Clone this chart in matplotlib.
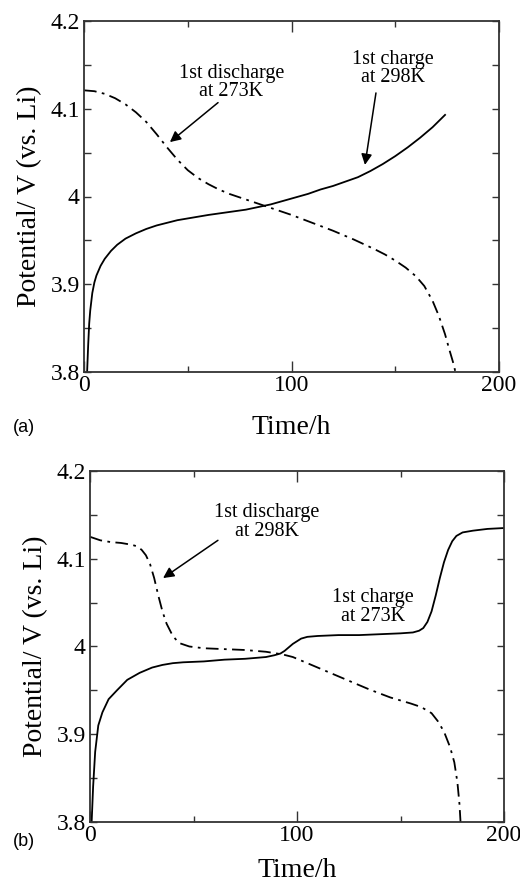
import matplotlib
matplotlib.use('Agg')
import matplotlib.pyplot as plt
from matplotlib.ticker import MultipleLocator, FixedLocator

plt.rcParams['font.family'] = ['Liberation Serif', 'DejaVu Serif']

# panel (a): 1st charge at 298K, 1st discharge at 273K
charge_a_t = [1.5, 2, 2.5, 3, 4, 5, 6, 8, 10, 13, 16, 20, 25, 30, 35, 40, 45, 50,
              55, 60, 66, 72, 78, 84, 90, 96, 102, 108, 114, 120, 126, 132, 138,
              144, 150, 156, 162, 168, 174]
charge_a_v = [3.80, 3.83, 3.855, 3.87, 3.89, 3.902, 3.91, 3.921, 3.929, 3.938,
              3.945, 3.952, 3.958, 3.963, 3.967, 3.970, 3.973, 3.975, 3.977,
              3.979, 3.981, 3.983, 3.985, 3.988, 3.991, 3.995, 3.999, 4.003,
              4.008, 4.012, 4.017, 4.022, 4.029, 4.037, 4.046, 4.056, 4.067,
              4.079, 4.093]
disch_a_t = [0, 5, 10, 15, 20, 25, 30, 35, 40, 45, 50, 55, 60, 65, 70, 75, 80,
             85, 90, 95, 100, 110, 120, 130, 140, 145, 150, 155, 160, 164, 168,
             171, 174, 176, 178, 179]
disch_a_v = [4.121, 4.120, 4.117, 4.112, 4.105, 4.096, 4.085, 4.071, 4.056,
             4.042, 4.030, 4.021, 4.014, 4.008, 4.003, 3.999, 3.995, 3.991,
             3.987, 3.983, 3.979, 3.970, 3.961, 3.951, 3.940, 3.934, 3.927,
             3.919, 3.909, 3.898, 3.881, 3.864, 3.843, 3.826, 3.810, 3.80]

# panel (b): 1st charge at 273K, 1st discharge at 298K
charge_b_t = [0.8, 1.5, 2.5, 4, 6, 9, 13, 18, 24, 30, 35, 40, 45, 55, 65, 75, 85,
              89, 92, 94, 96, 98, 100, 102, 105, 110, 120, 130, 140, 150, 156,
              159, 161, 163, 165, 167, 169, 171, 173, 175, 177, 180, 185, 192, 200]
charge_b_v = [3.80, 3.84, 3.88, 3.91, 3.925, 3.94, 3.95, 3.962, 3.970, 3.976,
              3.979, 3.981, 3.982, 3.983, 3.985, 3.986, 3.988, 3.990, 3.992,
              3.995, 3.999, 4.003, 4.006, 4.009, 4.011, 4.012, 4.013, 4.013,
              4.014, 4.015, 4.016, 4.018, 4.021, 4.028, 4.040, 4.058, 4.078,
              4.096, 4.110, 4.120, 4.126, 4.130, 4.132, 4.134, 4.135]
disch_b_t = [0, 5, 10, 15, 20, 23, 25, 27, 29, 31, 33, 35, 37, 40, 43, 48, 55,
             65, 75, 85, 93, 98, 105, 115, 125, 135, 145, 155, 160, 165, 168,
             171, 174, 176, 177.5, 178.5, 179]
disch_b_v = [4.125, 4.121, 4.119, 4.118, 4.116, 4.114, 4.110, 4.104, 4.094,
             4.078, 4.058, 4.040, 4.026, 4.012, 4.004, 4.000, 3.998, 3.997,
             3.996, 3.994, 3.991, 3.988, 3.981, 3.971, 3.961, 3.951, 3.942,
             3.935, 3.931, 3.924, 3.915, 3.903, 3.885, 3.868, 3.845, 3.82, 3.80]

x_ticks = [0, 100, 200]
y_ticks = [3.8, 3.9, 4.0, 4.1, 4.2]
y_ticklabels = ['3.8', '3.9', '4', '4.1', '4.2']

W, H = 520, 886
fig = plt.figure(figsize=(W / 100, H / 100), dpi=100)


def px_axes(left, right, top, bottom):
    return fig.add_axes([left / W, 1 - bottom / H, (right - left) / W, (bottom - top) / H])


def style(ax, xpad):
    ax.set_xlim(0, 200)
    ax.set_ylim(3.8, 4.2)
    ax.xaxis.set_major_locator(FixedLocator(x_ticks))
    ax.xaxis.set_minor_locator(MultipleLocator(50))
    ax.set_yticks(y_ticks)
    ax.set_yticklabels(y_ticklabels)
    ax.yaxis.set_minor_locator(MultipleLocator(0.05))
    ax.tick_params(which='both', direction='in', top=True, right=True,
                   labelsize=17, color='#333333', width=1.0)
    ax.tick_params(axis='x', which='major', length=8, pad=2)
    ax.tick_params(axis='x', which='minor', length=4)
    ax.tick_params(axis='y', which='both', length=5, pad=3)
    for s in ax.spines.values():
        s.set_linewidth(1.3)
        s.set_color('#333333')
    ax.set_xlabel('Time/h', fontsize=20, labelpad=xpad)
    ax.set_ylabel('Potential/ V (vs. Li)', fontsize=20, labelpad=6)


dashdot = (0, (7, 3, 1.5, 3))
arrow = dict(arrowstyle='-|>', color='black', lw=1.1, mutation_scale=16,
             shrinkA=0, shrinkB=0)

ax1 = px_axes(84, 499, 21, 372)
ax1.plot(charge_a_t, charge_a_v, color='black', lw=1.3)
ax1.plot(disch_a_t, disch_a_v, color='black', lw=1.3, linestyle=dashdot)
style(ax1, 14)
ax1.text(71, 4.130, '1st discharge\nat 273K', fontsize=14.5, ha='center', va='center',
         linespacing=0.95)
ax1.annotate('', xy=(41.4, 4.062), xytext=(64.6, 4.107), arrowprops=arrow)
ax1.text(149, 4.146, '1st charge\nat 298K', fontsize=14.5, ha='center', va='center',
         linespacing=0.95)
ax1.annotate('', xy=(135.4, 4.036), xytext=(140.7, 4.118), arrowprops=arrow)

ax2 = px_axes(90, 504, 471, 822)
ax2.plot(charge_b_t, charge_b_v, color='black', lw=1.3)
ax2.plot(disch_b_t, disch_b_v, color='black', lw=1.3, linestyle=dashdot)
style(ax2, 9)
ax2.text(85.5, 4.142, '1st discharge\nat 298K', fontsize=14.5, ha='center', va='center',
         linespacing=0.95)
ax2.annotate('', xy=(35.3, 4.078), xytext=(61.8, 4.121), arrowprops=arrow)
ax2.text(136.7, 4.045, '1st charge\nat 273K', fontsize=14.5, ha='center', va='center',
         linespacing=0.95)

fig.text(13 / W, 1 - 428 / H, '(a)', fontsize=13, family='Liberation Sans',
         ha='left', va='center')
fig.text(13 / W, 1 - 842 / H, '(b)', fontsize=13, family='Liberation Sans',
         ha='left', va='center')

fig.savefig('out.png', dpi=100)
